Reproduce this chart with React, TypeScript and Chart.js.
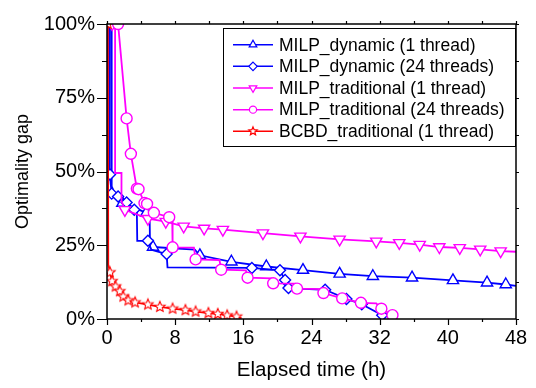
import React, { useEffect, useRef } from 'react';
import { Chart, registerables } from 'chart.js';

Chart.register(...registerables);

const FONT = '"Liberation Sans", Arial, Helvetica, sans-serif';

// ---- axis ticks ----
const xTicks = [0, 8, 16, 24, 32, 40, 48];
const yTicks = [0, 25, 50, 75, 100];
const xMinorStep = 4;
const yMinorStep = 12.5;

// ---- series names ----
const seriesNames = [
  'MILP_dynamic (1 thread)',
  'MILP_dynamic (24 threads)',
  'MILP_traditional (1 thread)',
  'MILP_traditional (24 threads)',
  'BCBD_traditional (1 thread)',
];

// ---- MILP_dynamic (1 thread) : elapsed hours / gap % / marker shown ----
const dyn1X = [0.15, 0.5, 0.55, 1.0, 1.8, 3.0, 4.6, 5.0, 5.05, 5.4, 10.3, 10.9, 14.6, 18.7, 23.0, 27.3, 31.2, 35.8, 40.6, 44.6, 46.8, 48];
const dyn1Y = [100, 100, 45, 42, 39.3, 38, 36, 35.5, 24.4, 24.4, 23.5, 21.6, 19.4, 17.8, 16.6, 15.3, 14.5, 14.0, 13.1, 12.3, 11.7, 11.2];
const dyn1M = [0, 0, 0, 0, 1, 0, 1, 0, 0, 1, 0, 1, 1, 1, 1, 1, 1, 1, 1, 1, 1, 0];

// ---- MILP_dynamic (24 threads) ----
const dyn24X = [0.1, 0.25, 0.3, 0.35, 0.55, 1.3, 2.3, 3.2, 3.5, 3.55, 4.8, 5.2, 7.0, 7.1, 17.0, 20.3, 20.9, 21.3, 25.6, 28.1, 29.9, 32.3, 32.6];
const dyn24Y = [100, 100, 50, 49, 42.5, 41.5, 39.5, 37, 36.5, 26.5, 26.5, 23.5, 22, 17.5, 17.3, 16.5, 13.2, 10.5, 9.9, 6.8, 5.0, 1.3, 0];
const dyn24M = [0, 0, 0, 1, 1, 1, 1, 1, 0, 0, 1, 0, 1, 0, 1, 1, 1, 1, 1, 1, 1, 1, 0];

// ---- MILP_traditional (1 thread) ----
const tr1X = [0.6, 0.95, 0.95, 1.7, 1.7, 2.1, 4.8, 6.9, 9.0, 11.4, 13.6, 18.3, 22.7, 27.3, 31.6, 34.3, 36.7, 39.0, 41.4, 43.8, 46.2, 48];
const tr1Y = [100, 100, 49.5, 49.5, 40, 37, 34, 33, 31.4, 30.7, 30.3, 29.1, 28.0, 27.0, 26.3, 25.8, 25.2, 24.4, 24.1, 23.6, 23.0, 22.8];
const tr1M = [1, 0, 0, 0, 0, 1, 1, 1, 1, 1, 1, 1, 1, 1, 1, 1, 1, 1, 1, 1, 1, 0];

// ---- MILP_traditional (24 threads) ----
const tr24X = [1.3, 2.3, 2.8, 3.5, 3.7, 4.4, 4.7, 5.5, 7.3, 7.65, 7.7, 10.2, 10.4, 13.2, 13.4, 16.3, 16.5, 19.3, 19.5, 22.1, 22.3, 25.2, 25.4, 27.6, 29.8, 31.6, 32.2, 33.5];
const tr24Y = [100, 68, 56, 44.2, 44, 39.3, 39, 36, 34.5, 34.3, 24.3, 24.2, 20.2, 20, 16.7, 16.5, 14, 13.8, 12.1, 12, 10.3, 10.1, 8.8, 7, 5.5, 5.3, 3.5, 1.3];
const tr24M = [1, 1, 1, 1, 1, 1, 1, 1, 1, 0, 1, 0, 1, 0, 1, 0, 1, 0, 1, 0, 1, 0, 1, 1, 1, 0, 1, 1];

// ---- BCBD_traditional (1 thread) ----
const bcbdX = [0.1, 0.15, 0.35, 0.6, 1.0, 1.5, 1.9, 2.5, 3.3, 4.8, 6.2, 7.7, 9.2, 10.4, 11.9, 13.0, 14.1, 15.2, 15.8];
const bcbdY = [100, 18.5, 15.8, 12.8, 11.0, 9.4, 7.6, 6.3, 5.6, 4.9, 4.1, 3.5, 3.0, 2.5, 2.0, 1.7, 1.2, 0.8, 0.2];
const bcbdM = [1, 0, 1, 1, 1, 1, 1, 1, 1, 1, 1, 1, 1, 1, 1, 1, 1, 1, 0];

const BLUE = '#0000ff';
const MAGENTA = '#ff00ff';
const RED = '#ff0000';

type Kind = 'triUp' | 'triDown' | 'diamond' | 'circle' | 'star';

function pathMarker(ctx: CanvasRenderingContext2D, kind: Kind, x: number, y: number, r: number) {
  ctx.beginPath();
  if (kind === 'triUp' || kind === 'triDown') {
    const s = kind === 'triUp' ? -1 : 1;
    ctx.moveTo(x, y + s * r);
    ctx.lineTo(x + r * 0.866, y - s * r * 0.5);
    ctx.lineTo(x - r * 0.866, y - s * r * 0.5);
    ctx.closePath();
  } else if (kind === 'diamond') {
    ctx.moveTo(x, y - r);
    ctx.lineTo(x + r, y);
    ctx.lineTo(x, y + r);
    ctx.lineTo(x - r, y);
    ctx.closePath();
  } else if (kind === 'circle') {
    ctx.arc(x, y, r, 0, Math.PI * 2);
  } else {
    for (let i = 0; i < 10; i++) {
      const a = -Math.PI / 2 + (i * Math.PI) / 5;
      const rr = i % 2 === 0 ? r : r * 0.45;
      const px = x + Math.cos(a) * rr;
      const py = y + Math.sin(a) * rr;
      if (i === 0) ctx.moveTo(px, py);
      else ctx.lineTo(px, py);
    }
    ctx.closePath();
  }
}

function drawMarker(ctx: CanvasRenderingContext2D, kind: Kind, x: number, y: number, r: number, color: string, lw: number) {
  ctx.save();
  pathMarker(ctx, kind, x, y, r);
  ctx.fillStyle = '#ffffff';
  ctx.fill();
  ctx.strokeStyle = color;
  ctx.lineWidth = lw;
  ctx.lineJoin = 'miter';
  ctx.stroke();
  ctx.restore();
}

function makeMarkerCanvas(kind: Kind, r: number, color: string, lw: number) {
  const size = Math.ceil(r * 2 + lw * 2 + 2);
  const c = document.createElement('canvas');
  c.width = size;
  c.height = size;
  const ctx = c.getContext('2d')!;
  drawMarker(ctx, kind, size / 2, size / 2, r, color, lw);
  return c;
}

const legendKinds: Kind[] = ['triUp', 'diamond', 'triDown', 'circle', 'star'];
const legendColors = [BLUE, BLUE, MAGENTA, MAGENTA, RED];

const framePlugin = {
  id: 'frame',
  afterDatasetsDraw(chart: any) {
    const { ctx, chartArea: a, scales } = chart;
    ctx.save();
    ctx.strokeStyle = '#000';
    ctx.lineWidth = 1.2;
    ctx.beginPath();
    for (let v = 0; v <= 48 + 1e-9; v += xMinorStep) {
      const px = Math.round(scales.x.getPixelForValue(v)) + 0.5;
      const major = xTicks.includes(v);
      ctx.moveTo(px, a.bottom);
      ctx.lineTo(px, a.bottom + (major ? 6 : 3));
      ctx.moveTo(px, a.top);
      ctx.lineTo(px, a.top - 3);
    }
    for (let v = 0; v <= 100 + 1e-9; v += yMinorStep) {
      const py = Math.round(scales.y.getPixelForValue(v)) + 0.5;
      const major = yTicks.includes(v);
      ctx.moveTo(a.left, py);
      ctx.lineTo(a.left - (major ? 10 : 5), py);
      ctx.moveTo(a.right, py);
      ctx.lineTo(a.right + 3, py);
    }
    ctx.stroke();
    ctx.lineWidth = 1.5;
    ctx.strokeRect(a.left, a.top, a.right - a.left, a.bottom - a.top);
    ctx.restore();
  },
};

const legendPlugin = {
  id: 'customLegend',
  afterDraw(chart: any) {
    const { ctx, chartArea: a } = chart;
    const left = a.left + 116;
    const top = a.top + 4;
    const right = a.right - 1;
    const bottom = a.top + 122;
    ctx.save();
    ctx.fillStyle = '#ffffff';
    ctx.fillRect(left, top, right - left, bottom - top);
    ctx.strokeStyle = '#000';
    ctx.lineWidth = 1;
    ctx.strokeRect(left + 0.5, top + 0.5, right - left, bottom - top);
    ctx.font = `17.5px ${FONT}`;
    ctx.textBaseline = 'middle';
    ctx.textAlign = 'left';
    seriesNames.forEach((name, i) => {
      const y = top + 16.7 + i * 21.65;
      const color = legendColors[i];
      ctx.strokeStyle = color;
      ctx.lineWidth = 1.5;
      ctx.beginPath();
      ctx.moveTo(left + 10, y);
      ctx.lineTo(left + 50, y);
      ctx.stroke();
      const kind = legendKinds[i];
      drawMarker(ctx, kind, left + 30, y, kind === 'circle' ? 3.6 : kind === 'diamond' ? 4.2 : 4.4, color, 1.2);
      ctx.fillStyle = '#000';
      ctx.fillText(name, left + 56, y + 1);
    });
    ctx.restore();
  },
};

export default function App() {
  const ref = useRef<HTMLCanvasElement>(null);

  useEffect(() => {
    document.body.style.margin = '0';
    const canvas = ref.current;
    if (!canvas) return;

    const starImg = makeMarkerCanvas('star', 5.5, RED, 1.1);

    const mk = (
      label: string,
      xs: number[],
      ys: number[],
      flags: number[],
      color: string,
      style: any,
      rotation: number,
      radius: number,
      order: number
    ) => ({
      label,
      data: xs.map((x, i) => ({ x, y: ys[i] })),
      borderColor: color,
      borderWidth: 1.8,
      backgroundColor: '#ffffff',
      pointBackgroundColor: '#ffffff',
      pointBorderColor: color,
      pointBorderWidth: 1.4,
      pointStyle: style,
      pointRotation: rotation,
      pointRadius: flags.map((f) => (f ? radius : 0)),
      pointHoverRadius: 0,
      pointHitRadius: 0,
      tension: 0,
      fill: false,
      clip: 0,
      order,
    });

    const chart = new Chart(canvas, {
      type: 'line',
      data: {
        datasets: [
          mk(seriesNames[0], dyn1X, dyn1Y, dyn1M, BLUE, 'triangle', 0, 6.5, 5),
          mk(seriesNames[1], dyn24X, dyn24Y, dyn24M, BLUE, 'rectRot', 0, 5.5, 4),
          mk(seriesNames[2], tr1X, tr1Y, tr1M, MAGENTA, 'triangle', 180, 6.5, 3),
          mk(seriesNames[3], tr24X, tr24Y, tr24M, MAGENTA, 'circle', 0, 5.5, 2),
          mk(seriesNames[4], bcbdX, bcbdY, bcbdM, RED, starImg, 0, 5, 1),
        ] as any,
      },
      options: {
        responsive: false,
        animation: false,
        events: [],
        layout: { padding: { left: 0, right: 20, top: 16, bottom: 0 } },
        plugins: {
          legend: { display: false },
          tooltip: { enabled: false },
          title: { display: false },
        },
        scales: {
          x: {
            type: 'linear',
            min: 0,
            max: 48,
            afterFit: (s: any) => {
              s.height = 69;
            },
            afterBuildTicks: (s: any) => {
              s.ticks = xTicks.map((v) => ({ value: v }));
            },
            grid: { display: false, drawTicks: false, tickLength: 0 },
            border: { display: false },
            ticks: {
              font: { family: FONT, size: 20 },
              color: '#000',
              padding: 7,
              maxRotation: 0,
              autoSkip: false,
            },
            title: {
              display: true,
              text: 'Elapsed time (h)',
              color: '#000',
              font: { family: FONT, size: 20.5 },
              padding: { top: 0, bottom: 5 },
            },
          },
          y: {
            type: 'linear',
            min: 0,
            max: 100,
            afterFit: (s: any) => {
              s.width = 107;
            },
            afterBuildTicks: (s: any) => {
              s.ticks = yTicks.map((v) => ({ value: v }));
            },
            grid: { display: false, drawTicks: false, tickLength: 0 },
            border: { display: false },
            ticks: {
              font: { family: FONT, size: 20 },
              color: '#000',
              padding: 12,
              callback: (v: any) => `${v}%`,
            },
            title: {
              display: true,
              text: 'Optimality gap',
              color: '#000',
              font: { family: FONT, size: 18 },
              padding: { top: 12.6, bottom: 0 },
            },
          },
        },
      } as any,
      plugins: [framePlugin, legendPlugin],
    });

    return () => chart.destroy();
  }, []);

  return <canvas ref={ref} width={536} height={388} style={{ display: 'block' }} />;
}
